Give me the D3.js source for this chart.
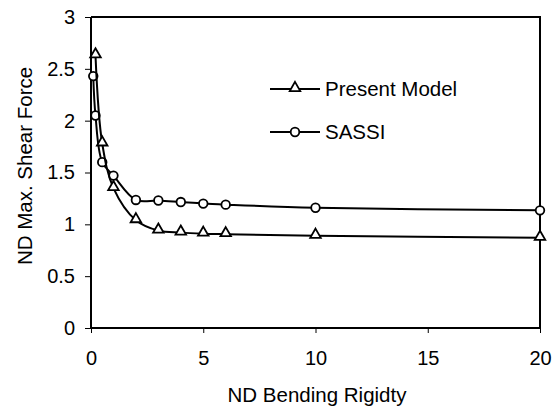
<!DOCTYPE html>
<html>
<head>
<meta charset="utf-8">
<script src="https://cdn.jsdelivr.net/npm/d3@7"></script>
<style>
  body { margin: 0; background: #fff; }
  text { font-family: "Liberation Sans", Arial, sans-serif; fill: #000; }
</style>
</head>
<body>
<div id="chart"></div>
<script>
// data
const presentX = [0.2, 0.5, 1, 2, 3, 4, 5, 6, 10, 20];
const presentY = [2.63, 1.78, 1.35, 1.04, 0.94, 0.92, 0.91, 0.905, 0.89, 0.87];
const sassiX = [0.1, 0.2, 0.5, 1, 2, 3, 4, 5, 6, 10, 20];
const sassiY = [2.43, 2.05, 1.6, 1.47, 1.235, 1.23, 1.215, 1.2, 1.19, 1.16, 1.135];
const xTicks = [0, 5, 10, 15, 20];
const yTicks = [0, 0.5, 1, 1.5, 2, 2.5, 3];
const yTickLabels = ["0", "0.5", "1", "1.5", "2", "2.5", "3"];

const width = 555, height = 410;
const margin = { left: 91, top: 17, right: 15, bottom: 82 };

const svg = d3.select("#chart").append("svg")
    .attr("width", width)
    .attr("height", height);

const x = d3.scaleLinear().domain([0, 20]).range([margin.left, width - margin.right]);
const y = d3.scaleLinear().domain([0, 3]).range([height - margin.bottom, margin.top]);

// frame (top and right edges)
svg.append("path")
    .attr("d", `M${x(0)},${y(3)}H${x(20)}V${y(0)}`)
    .attr("fill", "none")
    .attr("stroke", "#000")
    .attr("stroke-width", 2);

const xAxis = svg.append("g")
    .attr("transform", `translate(0,${y(0)})`)
    .call(d3.axisBottom(x).tickValues(xTicks).tickSize(5).tickPadding(18));

const yAxis = svg.append("g")
    .attr("transform", `translate(${x(0)},0)`)
    .call(d3.axisLeft(y).tickValues(yTicks).tickSize(6).tickPadding(10)
        .tickFormat((d, i) => yTickLabels[i]));

[xAxis, yAxis].forEach(a => {
    a.select(".domain").attr("stroke-width", 2).attr("stroke", "#000");
    a.selectAll(".tick line").attr("stroke", "#000").attr("stroke-width", 1);
    a.selectAll(".tick text")
        .style("font-family", '"Liberation Sans", Arial, sans-serif')
        .style("font-size", "20px");
});
xAxis.select(".domain").attr("d", `M${x(0)},0H${x(20)}`);
yAxis.select(".domain").attr("d", `M0,${y(0)}V${y(3)}`);

// axis titles
svg.append("text")
    .attr("x", 317)
    .attr("y", 402)
    .attr("text-anchor", "middle")
    .style("font-size", "20.5px")
    .text("ND Bending Rigidty");

svg.append("text")
    .attr("transform", "translate(32,166) rotate(-90)")
    .attr("text-anchor", "middle")
    .style("font-size", "20.5px")
    .text("ND Max. Shear Force");

const line = d3.line()
    .x(d => x(d[0]))
    .y(d => y(d[1]))
    .curve(d3.curveCatmullRom.alpha(0.5));

const present = presentX.map((v, i) => [v, presentY[i]]);
const sassi = sassiX.map((v, i) => [v, sassiY[i]]);

const tri = d3.symbol().type(d3.symbolTriangle).size(48);

function drawSeries(data, shape) {
    svg.append("path")
        .datum(data)
        .attr("d", line)
        .attr("fill", "none")
        .attr("stroke", "#000")
        .attr("stroke-width", 2);
    const g = svg.append("g");
    if (shape === "tri") {
        g.selectAll("path").data(data).enter().append("path")
            .attr("d", tri)
            .attr("transform", d => `translate(${x(d[0])},${y(d[1]) - 1})`)
            .attr("fill", "#fff")
            .attr("stroke", "#000")
            .attr("stroke-width", 1.8);
    } else {
        g.selectAll("circle").data(data).enter().append("circle")
            .attr("cx", d => x(d[0]))
            .attr("cy", d => y(d[1]))
            .attr("r", 4.3)
            .attr("fill", "#fff")
            .attr("stroke", "#000")
            .attr("stroke-width", 1.8);
    }
}

drawSeries(sassi, "circle");
drawSeries(present, "tri");

// legend
const legend = [
    { name: "Present Model", shape: "tri", y: 89 },
    { name: "SASSI", shape: "circle", y: 132 }
];
legend.forEach(d => {
    svg.append("line")
        .attr("x1", 270).attr("x2", 320)
        .attr("y1", d.y).attr("y2", d.y)
        .attr("stroke", "#000").attr("stroke-width", 2);
    if (d.shape === "tri") {
        svg.append("path")
            .attr("d", tri)
            .attr("transform", `translate(295,${d.y - 1})`)
            .attr("fill", "#fff").attr("stroke", "#000").attr("stroke-width", 1.8);
    } else {
        svg.append("circle")
            .attr("cx", 295).attr("cy", d.y).attr("r", 4.3)
            .attr("fill", "#fff").attr("stroke", "#000").attr("stroke-width", 1.8);
    }
    svg.append("text")
        .attr("x", 325)
        .attr("y", d.y + 7)
        .style("font-size", "20.5px")
        .text(d.name);
});
</script>
</body>
</html>
